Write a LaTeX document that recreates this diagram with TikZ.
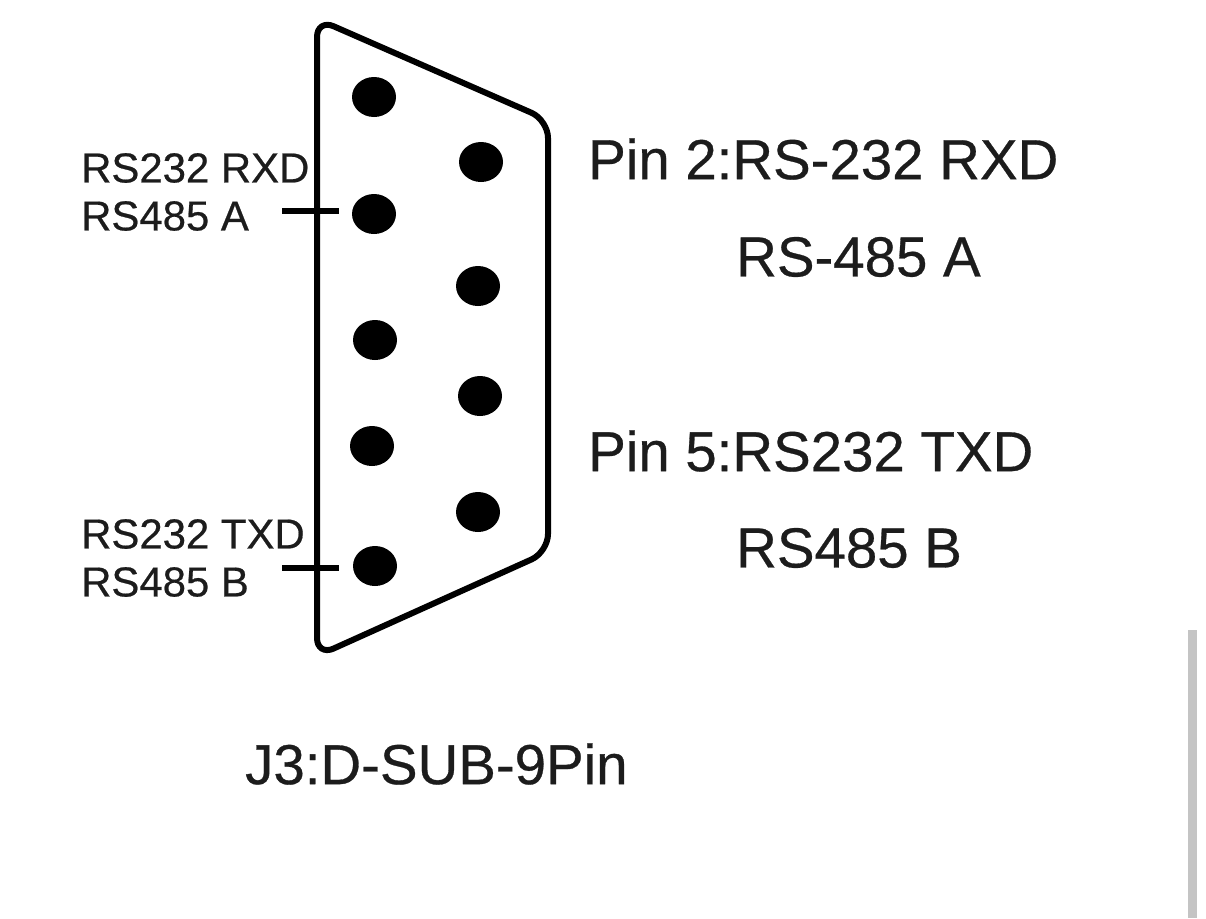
\documentclass[tikz,border=0pt]{standalone}
\usepackage{fontspec}
\setmainfont[FakeBold=0.5]{Liberation Sans}
\definecolor{ink}{HTML}{1C1C1C}
\definecolor{barc}{HTML}{C4C4C4}
\usetikzlibrary{shapes.geometric}
\tikzset{
 pin/.style={fill=black,ellipse,minimum width=44pt,minimum height=40pt,inner sep=0pt},
 biglab/.style={text=ink,font=\fontsize{56.4pt}{60pt}\selectfont,anchor=west,inner sep=0pt},
 smalllab/.style={text=ink,font=\fontsize{41.9pt}{44pt}\selectfont,anchor=west,inner sep=0pt},
 lead/.style={line width=6.5pt,black}
}
\begin{document}
\begin{tikzpicture}[x=1pt,y=-1pt]
\useasboundingbox (0,0) rectangle (1206,918);
\fill[white] (0,0) rectangle (1206,918);
\fill[barc] (1188,630) rectangle (1197,918);
% shell
\draw[line width=6pt,black,rounded corners=18pt] (317,19) -- (548,120) -- (548,552) -- (317,656) -- cycle;
% pins
\node[pin] (p1) at (374,97) {};
\node[pin] (p2) at (374,214) {};
\node[pin] (p3) at (375,340) {};
\node[pin] (p4) at (372,446) {};
\node[pin] (p5) at (375,566) {};
\node[pin] (p6) at (481,162) {};
\node[pin] (p7) at (478,286) {};
\node[pin] (p8) at (480,396) {};
\node[pin] (p9) at (478,512) {};
\coordinate (la) at (282,211);
\coordinate (lae) at (339,211);
\coordinate (lb) at (282,568);
\coordinate (lbe) at (339,568);
\draw[lead] (la) -- (lae);
\draw[lead] (lb) -- (lbe);
% labels
\node[smalllab] (a1) at (81,168) {RS232 RXD};
\node[smalllab] (a2) at (81,216) {RS485 A};
\node[smalllab] (b1) at (81,534) {RS232 TXD};
\node[smalllab] (b2) at (81,582) {RS485 B};
\node[biglab] (c1) at (588,159) {Pin 2:RS-232 RXD};
\node[biglab] (c2) at (736,257) {RS-485 A};
\node[biglab] (c3) at (588,451) {Pin 5:RS232 TXD};
\node[biglab] (c4) at (736,548) {RS485 B};
\node[biglab] (t) at (245,764) {J3:D-SUB-9Pin};
\end{tikzpicture}
\end{document}
